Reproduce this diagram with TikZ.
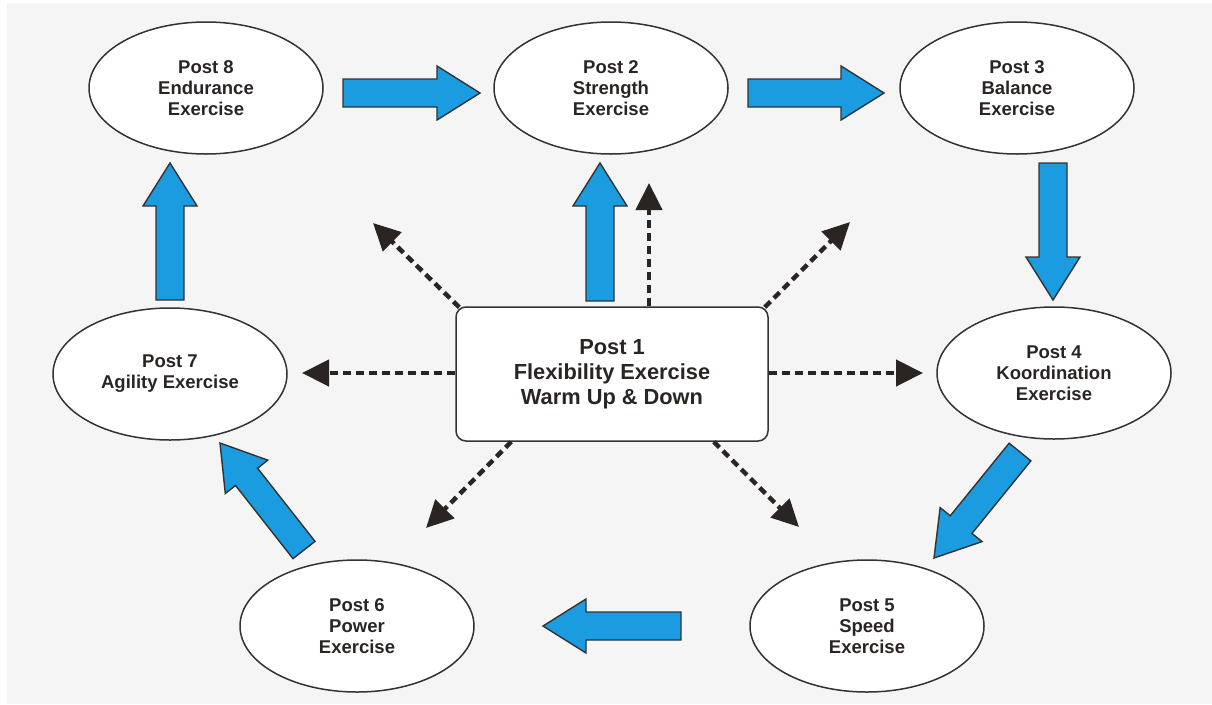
\documentclass[tikz,border=0pt]{standalone}
\usepackage{fontspec}
\setmainfont{Liberation Sans}
\usetikzlibrary{shapes.geometric,arrows.meta,calc}
\definecolor{bgray}{HTML}{F5F5F5}
\definecolor{ablue}{RGB}{27,155,224}
\definecolor{dk}{HTML}{2A2523}
\definecolor{edge}{HTML}{333333}
\tikzset{
  post/.style={ellipse, draw=edge, line width=1.5pt, fill=white, minimum width=234pt, minimum height=132pt, inner sep=0pt, align=center, font=\bfseries\fontsize{18.5}{21}\selectfont, text=dk},
  centerbox/.style={rectangle, rounded corners=10pt, draw=edge, line width=1.5pt, fill=white, minimum width=312pt, minimum height=134pt, align=center, font=\bfseries\fontsize{21.8}{25}\selectfont, text=dk},
  blockstyle/.style={draw=edge, fill=ablue, line width=1.4pt, line join=miter},
  dasharr/.style={draw=dk, line width=4.5pt, dash pattern=on 8pt off 5pt, -{Triangle[length=27pt,width=26pt,fill=dk]}},
}
\newcommand{\blockarrow}[2]{%
  \coordinate (hb) at ($(#2)!43pt!(#1)$);
  \draw[blockstyle] ($(#1)!14pt!90:(#2)$) -- ($(hb)!14pt!-90:(#1)$) -- ($(hb)!27pt!-90:(#1)$) -- (#2)
    -- ($(hb)!27pt!90:(#1)$) -- ($(hb)!14pt!90:(#1)$) -- ($(#1)!14pt!-90:(#2)$) -- cycle;
}
\begin{document}
\begin{tikzpicture}[x=1pt,y=-1pt]
\useasboundingbox (0,0) rectangle (1212,704);
\fill[white] (0,0) rectangle (1212,704);
\fill[bgray] (7,3) rectangle (1212,704);

% nodes
\node[post] (p8) at (206,88) {Post 8\\Endurance\\Exercise};
\node[post] (p2) at (611,88) {Post 2\\Strength\\Exercise};
\node[post] (p3) at (1017,88) {Post 3\\Balance\\Exercise};
\node[post] (p7) at (170,374) {Post 7\\Agility Exercise};
\node[post] (p4) at (1054,373) {Post 4\\Koordination\\Exercise};
\node[post] (p6) at (357,626) {Post 6\\Power\\Exercise};
\node[post] (p5) at (867,626) {Post 5\\Speed\\Exercise};
\node[centerbox] (p1) at (612,374) {Post 1\\Flexibility Exercise\\Warm Up \& Down};

% block arrow end points
\coordinate (a82s) at (343,93);   \coordinate (a82t) at (480,93);
\coordinate (a23s) at (748,93);   \coordinate (a23t) at (884,93);
\coordinate (a34s) at (1053,163); \coordinate (a34t) at (1053,300);
\coordinate (a45s) at (1020,452); \coordinate (a45t) at (934,558);
\coordinate (a56s) at (681,626);  \coordinate (a56t) at (543,626);
\coordinate (a67s) at (304,550);  \coordinate (a67t) at (220,443);
\coordinate (a78s) at (170,300);  \coordinate (a78t) at (170,163);
\coordinate (a12s) at (600,301);  \coordinate (a12t) at (600,163);

\blockarrow{a82s}{a82t}
\blockarrow{a23s}{a23t}
\blockarrow{a34s}{a34t}
\blockarrow{a45s}{a45t}
\blockarrow{a56s}{a56t}
\blockarrow{a67s}{a67t}
\blockarrow{a78s}{a78t}
\blockarrow{a12s}{a12t}

% dashed arrows from the centre box
\coordinate (dU)  at (649,183);
\coordinate (dUL) at (373,223);
\coordinate (dUR) at (850,222);
\coordinate (dL)  at (302,373);
\coordinate (dR)  at (923,373);
\coordinate (dDL) at (426,528);
\coordinate (dDR) at (799,527);

\draw[dasharr] (p1.north -| dU) -- (dU);
\draw[dasharr] ($(p1.north west)+(4,1)$) -- (dUL);
\draw[dasharr] ($(p1.north east)+(-4,1)$) -- (dUR);
\draw[dasharr] (p1.west |- dL) -- (dL);
\draw[dasharr] (p1.east |- dR) -- (dR);
\draw[dasharr] ($(p1.south west)+(56,0)$) -- (dDL);
\draw[dasharr] ($(p1.south east)+(-55,0)$) -- (dDR);
\end{tikzpicture}
\end{document}
